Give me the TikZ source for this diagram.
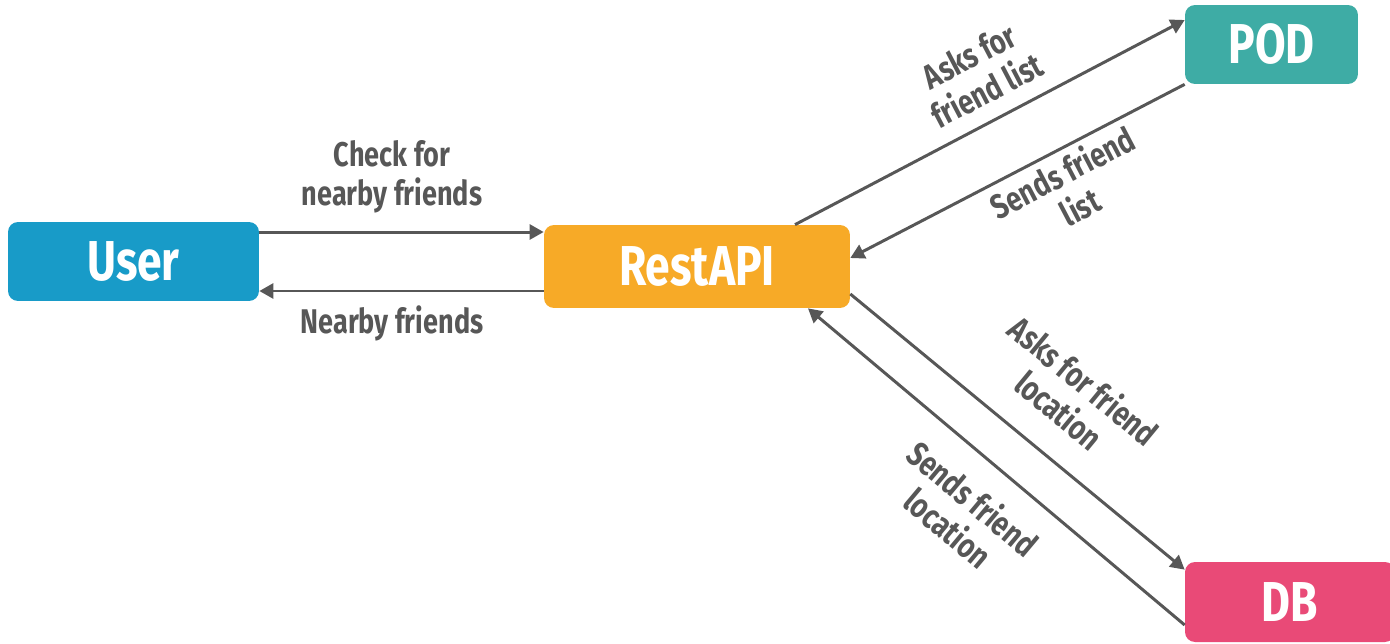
\documentclass[tikz,border=0pt]{standalone}
\usepackage{fontspec}
\setmainfont{Fira Sans}[FakeStretch=0.79]
\usetikzlibrary{arrows.meta}
\definecolor{userblue}{HTML}{189BC8}
\definecolor{restorange}{HTML}{F7AA27}
\definecolor{podteal}{HTML}{3EACA5}
\definecolor{dbpink}{HTML}{E94A77}
\definecolor{linegray}{HTML}{575757}
\begin{document}
\begin{tikzpicture}[x=0.02cm, y=-0.02cm,
        box/.style={rectangle, rounded corners=0.2cm, text=white, font=\fontsize{32}{36}\selectfont\bfseries, minimum height=1.58cm, inner sep=0pt},
        arr/.style={draw=linegray, line width=1.7pt, -{Triangle[length=8pt, width=8.5pt]}},
        lbl/.style={text=linegray, align=center, font=\fontsize{19.5}{22}\selectfont\bfseries, inner sep=0pt}
    ]
        \useasboundingbox (0,0) rectangle (1390,643);

        % Boxes
        \node[box, fill=userblue, minimum width=5.02cm] (user) at (133.5,261.5) {User};
        \node[box, fill=restorange, minimum width=6.12cm, minimum height=1.66cm] (rest) at (697,266.5) {RestAPI};
        \node[box, fill=podteal, minimum width=3.46cm] (pod) at (1271.5,44.5) {POD};
        \node[box, fill=dbpink, minimum width=4.2cm, minimum height=1.6cm] (db) at (1290,602) {DB};

        % Connectors
        \draw[arr] ([yshift=0.59cm]user.east) -- ([yshift=0.59cm]user.east -| rest.west);
        \draw[arr] ([yshift=-0.59cm]user.east -| rest.west) -- ([yshift=-0.59cm]user.east);
        \draw[arr] ([xshift=1.96cm]rest.north) -- ([yshift=0.49cm]pod.west);
        \draw[arr] (pod.south west) -- ([yshift=0.17cm]rest.east);
        \draw[arr] ([yshift=-0.55cm]rest.east) -- ([yshift=-0.16cm]db.north west);
        \draw[arr] ([yshift=-0.46cm]db.west) -- ([xshift=2.22cm]rest.south);

        % Labels
        \node[lbl] (check) at (392,177) {Check for\\nearby friends};
        \node[lbl] (nearby) at (392,323) {Nearby friends};
        \node[lbl, rotate=27.6] (askpod) at (978,73) {Asks for\\friend list};
        \node[lbl, rotate=27.6] (sendpod) at (1071,189) {Sends friend\\list};
        \node[lbl, rotate=-39.5] (askdb) at (1072,395) {Asks for friend\\location};
        \node[lbl, rotate=-40] (senddb) at (961,513) {Sends friend\\location};
    \end{tikzpicture}
\end{document}
